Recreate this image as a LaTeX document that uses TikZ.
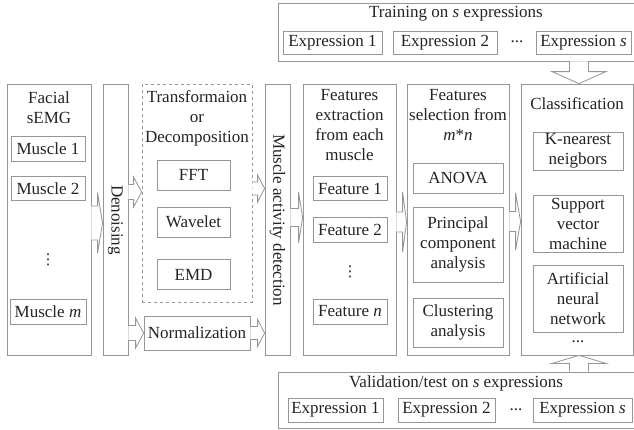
\documentclass[tikz,border=0pt]{standalone}
\usepackage{fontspec}
\setmainfont{Liberation Serif}
\newfontfamily\timesfont{Liberation Serif}
\newfontfamily\dotsfont{DejaVu Sans}
\usepackage{xcolor}
\definecolor{boxgray}{RGB}{150,150,150}
\definecolor{txtgray}{RGB}{35,35,35}
\usetikzlibrary{calc}

% hollow block arrows: from anchor, to anchor, centre line, head half, shaft half, head length
\newcommand{\harrow}[6]{%
  \path (0,#3) coordinate (hy);
  \draw[fatarrow] let \p1=(#1 |- hy), \p2=(#2 |- hy), \n1={sign(\x2-\x1)} in
    (\x1,{\y1+#5}) -- ({\x2-\n1*#6},{\y1+#5}) -- ({\x2-\n1*#6},{\y1+#4})
    -- (\x2,\y1) -- ({\x2-\n1*#6},{\y1-#4}) -- ({\x2-\n1*#6},{\y1-#5}) -- (\x1,{\y1-#5});}
\newcommand{\varrow}[6]{%
  \path (#3,0) coordinate (vx);
  \draw[fatarrow] let \p1=(#1 -| vx), \p2=(#2 -| vx), \n1={sign(\y2-\y1)} in
    ({\x1-#5},\y1) -- ({\x1-#5},{\y2-\n1*#6}) -- ({\x1-#4},{\y2-\n1*#6})
    -- (\x1,\y2) -- ({\x1+#4},{\y2-\n1*#6}) -- ({\x1+#5},{\y2-\n1*#6}) -- ({\x1+#5},\y1);}

\begin{document}
\begin{tikzpicture}[x=1pt, y=-1pt,
  every node/.style={font=\timesfont\fontsize{17}{20}\selectfont, text=txtgray, align=center},
  column/.style={draw=boxgray, line width=0.8pt, minimum width=#1, minimum height=271pt, inner sep=0pt},
  itembox/.style={draw=boxgray, line width=0.8pt, inner sep=0pt},
  vdotsnode/.style={font=\dotsfont\fontsize{15}{15}\selectfont},
  fatarrow/.style={draw=boxgray, fill=white, line width=0.8pt, line join=miter}]

\useasboundingbox (0,0) rectangle (634,429);

% === Facial sEMG ===
\node[column=84pt] (fa) at (49,219.5) {};
\node (fatitle) at (49,107.5) {Facial\\sEMG};
\node[itembox, minimum width=74pt, minimum height=25pt] (m1) at (48,148.5) {Muscle 1};
\node[itembox, minimum width=74pt, minimum height=24pt] (m2) at (48,188.5) {Muscle 2};
\node[vdotsnode] (mdots) at (48,260) {⋮};
\node[itembox, minimum width=76pt, minimum height=25pt] (mm) at (48,311.5) {Muscle \textit{m}};

% === Denoising ===
\node[column=25pt] (den) at (115.5,219.5) {};
\node[rotate=-90] (dentext) at (115.5,220) {Denoising};

% === Transformation / Normalization ===
\node[draw=boxgray, line width=0.8pt, dashed, minimum width=110pt, minimum height=218pt] (td) at (197,193) {};
\node (tdtitle) at (197,118) {Transformaion\\or\\Decomposition};
\node[itembox, minimum width=73pt, minimum height=30pt] (fft) at (193.5,175) {FFT};
\node[itembox, minimum width=73pt, minimum height=30pt] (wav) at (193.5,222) {Wavelet};
\node[itembox, minimum width=73pt, minimum height=30pt] (emd) at (193.5,274.5) {EMD};
\node[itembox, minimum width=106pt, minimum height=34pt] (norm) at (197,333) {Normalization};

% === Muscle activity detection ===
\node[column=25pt] (mad) at (277.5,219.5) {};
\node[rotate=-90] (madtext) at (277.5,220) {Muscle activity detection};

% === Features extraction ===
\node[column=93pt] (fe) at (349.5,219.5) {};
\node (fetitle) at (349.5,125) {Features\\extraction\\from each\\muscle};
\node[itembox, minimum width=74pt, minimum height=24pt] (f1) at (350,188.5) {Feature 1};
\node[itembox, minimum width=74pt, minimum height=25pt] (f2) at (350,229.5) {Feature 2};
\node[vdotsnode] (fdots) at (350,272) {⋮};
\node[itembox, minimum width=74pt, minimum height=25pt] (fn) at (350,311.5) {Feature \textit{n}};

% === Features selection ===
\node[column=102pt] (fs) at (458,219.5) {};
\node (fstitle) at (458,115) {Features\\selection from\\\textit{m}*\textit{n}};
\node[itembox, minimum width=90pt, minimum height=30pt] (anova) at (458,178) {ANOVA};
\node[itembox, minimum width=90pt, minimum height=75pt] (pca) at (458,244.5) {Principal\\component\\analysis};
\node[itembox, minimum width=90pt, minimum height=49pt] (clu) at (458,322.5) {Clustering\\analysis};

% === Classification ===
\node[column=112pt] (cls) at (577,219.5) {};
\node (clstitle) at (577,104) {Classification};
\node[itembox, minimum width=90pt, minimum height=38pt] (knn) at (578,151) {K-nearest\\neigbors};
\node[itembox, minimum width=90pt, minimum height=57pt] (svm) at (578,223.5) {Support\\vector\\machine};
\node[itembox, minimum width=90pt, minimum height=67pt] (ann) at (578,298.5) {Artificial\\neural\\network};
\node[inner sep=0pt, anchor=base] (cdots) at (578,342) {...};

% === Training ===
\node[draw=boxgray, line width=0.8pt, minimum width=356pt, minimum height=58pt] (tr) at (456,32) {};
\node (trtitle) at (456,14) {Training on \textit{s} expressions};
\node[itembox, minimum width=99pt, minimum height=23pt] (te1) at (332.5,42.5) {Expression 1};
\node[itembox, minimum width=104pt, minimum height=23pt] (te2) at (445,42.5) {Expression 2};
\node (tdots) at (517,42) {...};
\node[itembox, minimum width=95pt, minimum height=23pt] (tes) at (583.5,42.5) {Expression \textit{s}};

% === Validation ===
\node[draw=boxgray, line width=0.8pt, minimum width=356pt, minimum height=56pt] (va) at (456,400) {};
\node (vatitle) at (456,383) {Validation/test on \textit{s} expressions};
\node[itembox, minimum width=95pt, minimum height=24pt] (ve1) at (335.5,410) {Expression 1};
\node[itembox, minimum width=97pt, minimum height=24pt] (ve2) at (446.5,410) {Expression 2};
\node (vdots) at (516,410) {...};
\node[itembox, minimum width=99pt, minimum height=24pt] (ves) at (582.5,410) {Expression \textit{s}};

% === arrows ===
\harrow{fa.east}{den.west}{223}{30pt}{17pt}{5pt}
\harrow{den.east}{td.west}{192}{15pt}{7.5pt}{8pt}
\harrow{den.east}{norm.west}{333}{15pt}{7.5pt}{8pt}
\harrow{td.east}{mad.west}{188.5}{13.5pt}{6.5pt}{7pt}
\harrow{norm.east}{mad.west}{333}{13.5pt}{6.5pt}{7pt}
\harrow{mad.east}{fe.west}{217.5}{25.5pt}{9pt}{4pt}
\harrow{fe.east}{fs.west}{222}{30pt}{10pt}{4pt}
\harrow{fs.east}{cls.west}{221.5}{28.5pt}{10pt}{5pt}
\varrow{tr.south}{cls.north}{579}{27pt}{9.5pt}{12pt}
\varrow{va.north}{cls.south}{579}{27pt}{9.5pt}{8pt}

\end{tikzpicture}
\end{document}
